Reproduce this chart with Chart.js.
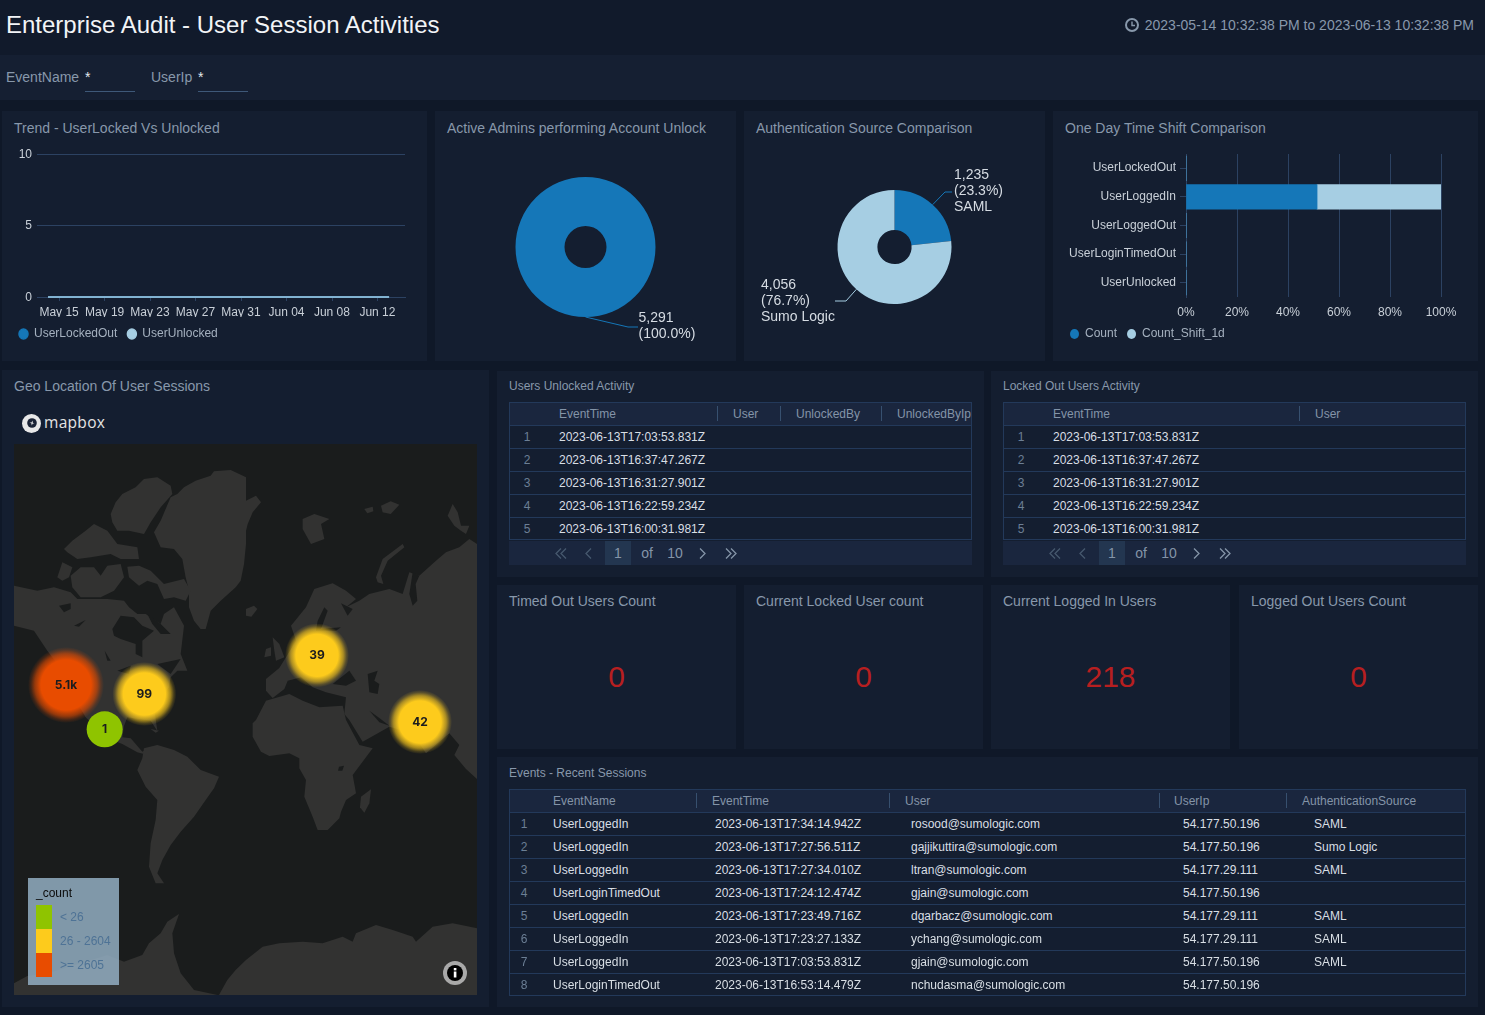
<!DOCTYPE html>
<html>
<head>
<meta charset="utf-8">
<title>Enterprise Audit - User Session Activities</title>
<script src="https://cdn.jsdelivr.net/npm/chart.js@4/dist/chart.umd.min.js"></script>
<style>
  html, body { margin: 0; padding: 0; background: #0f1828; }
  body { position: relative; width: 1485px; height: 1015px; overflow: hidden; font-family: "Liberation Sans", Arial, sans-serif; }
  .box, .txt, canvas, svg { position: absolute; display: block; }
  .txt { white-space: nowrap; }
</style>
</head>
<body>
<script>
const BLUE = "#1577b8";
const LIGHT = "#a6cee3";
const GRID = "#2c4262";
const TICK_TEXT = "#c9d0d8";
const LEGEND_TEXT = "#a5b1bf";
const WATER = "#1a1c1c";
const LAND = "#323231";

// trend panel
const trendDays = [0, 1, 2, 3, 4, 5, 6, 7, 8, 9, 10, 11, 12, 13, 14, 15, 16, 17, 18, 19, 20, 21, 22, 23, 24, 25, 26, 27, 28, 29, 30];
const lockedOutCounts = [0, 0, 0, 0, 0, 0, 0, 0, 0, 0, 0, 0, 0, 0, 0, 0, 0, 0, 0, 0, 0, 0, 0, 0, 0, 0, 0, 0, 0, 0, 0];
const unlockedCounts = [0, 0, 0, 0, 0, 0, 0, 0, 0, 0, 0, 0, 0, 0, 0, 0, 0, 0, 0, 0, 0, 0, 0, 0, 0, 0, 0, 0, 0, 0, 0];
const trendTickDays = [1, 5, 9, 13, 17, 21, 25, 29];
const trendTickLabels = ["May 15", "May 19", "May 23", "May 27", "May 31", "Jun 04", "Jun 08", "Jun 12"];
const trendValueTicks = [0, 5, 10];

// pies
const adminNames = ["Admin"];
const adminCounts = [5291];
const authSources = ["SAML", "Sumo Logic"];
const authCounts = [1235, 4056];

// time shift bars
const shiftEvents = ["UserLockedOut", "UserLoggedIn", "UserLoggedOut", "UserLoginTimedOut", "UserUnlocked"];
const shiftCount = [0, 51.4, 0, 0, 0];
const shiftCountPrev = [0, 48.6, 0, 0, 0];

// map clusters
const clusterCounts = [5100, 99, 1, 39, 42];
const clusterX = [156, 391, 272, 909, 1218];
const clusterY = [723, 750, 856, 634, 834];

// map outlines, flat x,y lists in the map plane (1389 x 1653)
const landShapes = [
  [510,130, 545,110, 590,95, 600,82, 650,78, 696,100, 696,170, 726,155, 741,175, 716,205, 701,240, 696,260, 696,300, 690,360, 680,410, 665,430, 620,470, 590,500, 575,555, 560,555, 540,530, 525,490, 525,440, 515,400, 505,345, 480,315, 440,310, 420,265, 440,230, 470,160, 490,150],
  [290,210, 305,175, 325,150, 365,130, 390,105, 430,100, 470,125, 475,150, 440,190, 410,235, 390,270, 345,260, 310,260, 295,235],
  [130,400, 145,355, 175,370, 165,400, 145,410],
  [170,395, 200,370, 240,370, 260,395, 280,365, 320,360, 330,400, 300,440, 260,460, 200,460, 175,430],
  [150,315, 175,290, 215,260, 240,240, 280,260, 310,300, 370,310, 375,345, 320,345, 290,330, 230,340, 190,345, 160,325],
  [340,368, 375,365, 410,380, 450,420, 510,405, 530,440, 515,470, 480,460, 450,465, 430,420, 400,410, 375,425, 345,400],
  [0,425, 70,440, 120,430, 170,445, 190,465, 280,465, 330,470, 345,490, 370,510, 395,510, 440,540, 450,510, 480,490, 510,545, 500,630, 520,680, 490,680, 470,700, 465,730, 420,790, 430,861, 410,830, 340,820, 330,845, 325,880, 350,883, 385,923, 395,918, 390,930, 370,925, 325,900, 275,880, 215,820, 180,760, 130,660, 100,620, 60,560, 0,545],
  [410,855, 435,860, 425,866],
  [390,913, 430,903, 480,918, 520,938, 560,978, 615,998, 600,1033, 575,1068, 540,1118, 500,1163, 470,1203, 445,1248, 430,1288, 450,1318, 425,1318, 405,1268, 410,1198, 425,1128, 430,1068, 395,1028, 370,978, 385,943],
  [0,1653, 0,1618, 40,1596, 100,1588, 200,1558, 280,1533, 330,1553, 385,1533, 405,1498, 440,1468, 460,1433, 495,1410, 475,1468, 480,1528, 500,1588, 540,1638, 610,1653],
  [615,1653, 640,1608, 665,1578, 696,1548, 746,1508, 796,1498, 866,1493, 926,1498, 986,1478, 1016,1493, 1026,1468, 1086,1443, 1136,1458, 1196,1478, 1206,1493, 1256,1448, 1316,1438, 1389,1453, 1389,1653],
  [726,828, 756,770, 826,750, 866,770, 916,790, 986,785, 996,828, 1036,903, 1076,913, 1016,993, 1026,1048, 996,1068, 981,1103, 976,1123, 941,1158, 911,1158, 896,1118, 871,1058, 876,1008, 856,973, 856,943, 826,928, 766,936, 741,923, 716,878, 716,838],
  [1041,1058, 1071,1036, 1066,1078, 1051,1106, 1038,1090],
  [756,705, 796,672, 816,640, 846,590, 831,545, 876,490, 901,435, 956,418, 996,440, 1026,465, 996,490, 1036,470, 1066,450, 1126,435, 1166,450, 1186,385, 1216,395, 1266,350, 1296,325, 1336,310, 1366,285, 1389,300, 1389,1005, 1356,975, 1321,933, 1336,903, 1306,868, 1236,928, 1196,868, 1126,848, 1046,893, 1006,828, 991,810, 996,760, 936,745, 896,730, 861,700, 821,710, 811,735, 776,762, 756,740],
  [866,225, 901,210, 946,225, 921,240, 931,285, 891,300, 866,255],
  [696,495, 720,485, 730,495, 712,518, 696,515],
  [1086,400, 1106,345, 1166,300, 1171,310, 1121,350, 1101,395, 1108,420, 1091,415],
  [1301,215, 1316,180, 1331,205, 1341,245, 1366,245, 1356,270, 1341,260, 1321,245],
  [776,580, 796,600, 811,640, 786,650, 781,620],
  [756,615, 771,610, 771,635, 751,640],
  [1051,195, 1076,188, 1078,202, 1060,208],
  [1101,185, 1130,172, 1156,182, 1130,210, 1106,205]
];
const waterShapes = [
  [295,555, 320,515, 360,520, 385,545, 420,560, 385,590, 385,640, 365,630, 365,600, 320,585, 300,575],
  [400,510, 440,540, 470,570, 440,570, 415,540],
  [135,485, 170,478, 170,495, 150,505],
  [180,545, 215,528, 195,548],
  [272,620, 290,650, 280,650],
  [310,680, 350,665, 345,690],
  [430,660, 500,645, 470,690],
  [911,530, 931,490, 941,500, 921,555, 981,550, 966,560, 906,560],
  [956,720, 1006,680, 1026,710, 996,725],
  [1061,690, 1091,680, 1081,710, 1096,720, 1091,750, 1066,745],
  [1066,800, 1096,822, 1126,845, 1096,835],
  [981,478, 1016,495, 1001,515, 990,495],
  [1196,385, 1186,450, 1196,485, 1210,470, 1205,420, 1216,395],
  [975,968, 990,965, 985,980, 972,980]
];

// tables
const unlockedTimes = ["2023-06-13T17:03:53.831Z", "2023-06-13T16:37:47.267Z", "2023-06-13T16:31:27.901Z", "2023-06-13T16:22:59.234Z", "2023-06-13T16:00:31.981Z"];
const lockedTimes = ["2023-06-13T17:03:53.831Z", "2023-06-13T16:37:47.267Z", "2023-06-13T16:31:27.901Z", "2023-06-13T16:22:59.234Z", "2023-06-13T16:00:31.981Z"];
const eventNames = ["UserLoggedIn", "UserLoggedIn", "UserLoggedIn", "UserLoginTimedOut", "UserLoggedIn", "UserLoggedIn", "UserLoggedIn", "UserLoginTimedOut"];
const eventTimes = ["2023-06-13T17:34:14.942Z", "2023-06-13T17:27:56.511Z", "2023-06-13T17:27:34.010Z", "2023-06-13T17:24:12.474Z", "2023-06-13T17:23:49.716Z", "2023-06-13T17:23:27.133Z", "2023-06-13T17:03:53.831Z", "2023-06-13T16:53:14.479Z"];
const eventUsers = ["rosood@sumologic.com", "gajjikuttira@sumologic.com", "ltran@sumologic.com", "gjain@sumologic.com", "dgarbacz@sumologic.com", "ychang@sumologic.com", "gjain@sumologic.com", "nchudasma@sumologic.com"];
const eventIps = ["54.177.50.196", "54.177.50.196", "54.177.29.111", "54.177.50.196", "54.177.29.111", "54.177.29.111", "54.177.50.196", "54.177.50.196"];
const eventSources = ["SAML", "Sumo Logic", "SAML", "", "SAML", "SAML", "SAML", ""];

// single values
const kpiTitles = ["Timed Out Users Count", "Current Locked User count", "Current Logged In Users", "Logged Out Users Count"];
const kpiValues = [0, 0, 218, 0];

Chart.defaults.font.family = '"Liberation Sans", Arial, sans-serif';
Chart.defaults.font.size = 12;
Chart.defaults.animation = false;
Chart.defaults.responsive = false;

function addBox(x, y, w, h, color, parent) {
  const el = document.createElement("div");
  el.className = "box";
  el.style.cssText = `left:${x}px;top:${y}px;width:${w}px;height:${h}px;background:${color};`;
  (parent || document.body).appendChild(el);
  return el;
}

function addText(text, x, y, size, color, opts = {}) {
  const el = document.createElement("div");
  el.className = "txt";
  el.textContent = text;
  const lh = size + 6;
  el.style.cssText = `top:${y - lh / 2}px;line-height:${lh}px;font-size:${size}px;color:${color};`;
  if (opts.center) {
    el.style.left = x - 100 + "px";
    el.style.width = "200px";
    el.style.textAlign = "center";
  } else if (opts.right) {
    el.style.right = 1485 - x + "px";
  } else {
    el.style.left = x + "px";
  }
  if (opts.font) el.style.fontFamily = opts.font;
  if (opts.weight) el.style.fontWeight = opts.weight;
  if (opts.spacing) el.style.letterSpacing = opts.spacing;
  (opts.parent || document.body).appendChild(el);
  return el;
}

function addCanvas(x, y, w, h) {
  const canvas = document.createElement("canvas");
  canvas.width = w;
  canvas.height = h;
  canvas.style.left = x + "px";
  canvas.style.top = y + "px";
  document.body.appendChild(canvas);
  return canvas;
}

function addSvg(x, y, w, h, inner) {
  const wrap = document.createElement("div");
  wrap.innerHTML = `<svg xmlns="http://www.w3.org/2000/svg" width="${w}" height="${h}" viewBox="0 0 ${w} ${h}" style="left:${x}px;top:${y}px">${inner}</svg>`;
  document.body.appendChild(wrap.firstChild);
}

// legend takes no layout room and sits where the panel wants it
const legendPlace = {
  id: "legendPlace",
  beforeInit(chart) {
    const fit = chart.legend.fit;
    chart.legend.fit = function () {
      fit.call(this);
      this.height = 0;
    };
  },
  afterLayout(chart, args, opts) {
    const legend = chart.legend;
    const pad = legend.options.labels.padding;
    legend.left = opts.x - pad;
    legend.right = chart.width;
    legend.top = opts.y - 6 - pad;
    legend.bottom = chart.height;
  }
};

// leader line and stacked text for each pie slice
const sliceLabels = {
  id: "sliceLabels",
  afterDatasetsDraw(chart, args, opts) {
    const { ctx } = chart;
    const data = chart.data.datasets[0].data;
    const total = data.reduce((a, b) => a + b, 0);
    chart.getDatasetMeta(0).data.forEach((arc, i) => {
      const spot = opts.spots[i];
      const mid = (arc.startAngle + arc.endAngle) / 2;
      const ax = arc.x + Math.cos(mid) * arc.outerRadius;
      const ay = arc.y + Math.sin(mid) * arc.outerRadius;
      ctx.save();
      ctx.strokeStyle = chart.data.datasets[0].backgroundColor[i];
      ctx.lineWidth = 1;
      ctx.beginPath();
      ctx.moveTo(ax, ay);
      ctx.lineTo(spot.elbowX, spot.elbowY);
      ctx.lineTo(spot.endX, spot.elbowY);
      ctx.stroke();
      ctx.fillStyle = "#d6dce3";
      ctx.font = '14px "Liberation Sans"';
      ctx.textBaseline = "middle";
      const lines = [data[i].toLocaleString("en-US"), "(" + (data[i] / total * 100).toFixed(1) + "%)"];
      if (opts.showNames) lines.push(chart.data.labels[i]);
      lines.forEach((line, k) => ctx.fillText(line, spot.textX, spot.textY + k * 16));
      ctx.restore();
    });
  }
};

function clusterLabel(count) {
  return count >= 1000 ? (count / 1000).toFixed(1) + "k" : String(count);
}

function clusterColor(count) {
  if (count < 26) return [143, 196, 0];
  if (count < 2605) return [253, 203, 28];
  return [232, 76, 0];
}

function clusterRadius(count) {
  if (count < 26) return 18;
  if (count < 2605) return 32;
  return 38;
}

// numbers on top of the bubbles
const clusterText = {
  id: "clusterText",
  afterDatasetsDraw(chart) {
    const { ctx } = chart;
    const index = chart.data.datasets.findIndex((d) => d.type === "bubble");
    chart.getDatasetMeta(index).data.forEach((pt, i) => {
      ctx.save();
      ctx.fillStyle = "#1b1c1e";
      ctx.font = 'bold 12px Inter, "Liberation Sans"';
      ctx.textAlign = "center";
      ctx.textBaseline = "middle";
      ctx.fillText(clusterLabel(clusterCounts[i]), pt.x, pt.y);
      ctx.restore();
    });
  }
};

// closes each outline dataset into a filled shape, land first, lakes and seas over it
const mapShapes = {
  id: "mapShapes",
  beforeDatasetsDraw(chart) {
    const { ctx } = chart;
    const fillKind = (kind) => {
      chart.data.datasets.forEach((dataset, i) => {
        if (dataset.shapeKind !== kind) return;
        ctx.beginPath();
        chart.getDatasetMeta(i).data.forEach((pt, k) => {
          if (k === 0) ctx.moveTo(pt.x, pt.y);
          else ctx.lineTo(pt.x, pt.y);
        });
        ctx.closePath();
        ctx.fillStyle = dataset.backgroundColor;
        ctx.fill();
      });
    };
    ctx.save();
    fillKind("land");
    fillKind("water");
    ctx.restore();
  }
};

/* ---------- page frame ---------- */
addBox(0, 0, 1485, 55, "#111a2b");
addBox(0, 55, 1485, 45, "#151f32");
addText("Enterprise Audit - User Session Activities", 6, 25, 24, "#f2f4f7");
addText("2023-05-14 10:32:38 PM to 2023-06-13 10:32:38 PM", 1474, 25, 14, "#8898ab", { right: true });
addSvg(1124, 17, 16, 16, '<circle cx="8" cy="8" r="6" fill="none" stroke="#8898ab" stroke-width="2"/><path d="M8 4.5V8.5H11" fill="none" stroke="#8898ab" stroke-width="1.4"/>');

addText("EventName", 6, 77, 14, "#8898ab");
addText("*", 85, 77, 14, "#e6eaee");
addBox(85, 91, 50, 1, "#3e5878");
addText("UserIp", 151, 77, 14, "#8898ab");
addText("*", 198, 77, 14, "#e6eaee");
addBox(198, 91, 50, 1, "#3e5878");

const PANEL = "#141e30";
const TITLE = "#8898ab";
[[2, 111, 425, 250, "Trend - UserLocked Vs Unlocked"],
 [435, 111, 301, 250, "Active Admins performing Account Unlock"],
 [744, 111, 301, 250, "Authentication Source Comparison"],
 [1053, 111, 425, 250, "One Day Time Shift Comparison"],
 [2, 370, 487, 637, "Geo Location Of User Sessions"]].forEach(([x, y, w, h, title]) => {
  addBox(x, y, w, h, PANEL);
  addText(title, x + 12, y + 17 - (y === 370 ? 1 : 0), 14, TITLE);
});

const legendLabels = {
  color: LEGEND_TEXT,
  usePointStyle: true,
  pointStyle: "circle",
  boxHeight: 7,
  pointStyleWidth: 9,
  padding: 10,
  font: { size: 12 },
  sort: (a, b) => a.datasetIndex - b.datasetIndex
};

/* ---------- trend lines ---------- */
new Chart(addCanvas(2, 111, 425, 250), {
  type: "line",
  data: {
    datasets: [
      { label: "UserLockedOut", data: trendDays.map((d, i) => ({ x: d, y: lockedOutCounts[i] })), borderColor: BLUE, backgroundColor: BLUE, borderWidth: 1.5, pointRadius: 0, clip: false, order: 2 },
      { label: "UserUnlocked", data: trendDays.map((d, i) => ({ x: d, y: unlockedCounts[i] })), borderColor: LIGHT, backgroundColor: LIGHT, borderWidth: 1.5, pointRadius: 0, clip: false, order: 1 }
    ]
  },
  options: {
    layout: { autoPadding: false, padding: { left: 0, right: 22, top: 43, bottom: 44 } },
    plugins: {
      tooltip: { enabled: false },
      legend: { position: "bottom", align: "start", labels: legendLabels },
      legendPlace: { x: 17, y: 223 }
    },
    scales: {
      x: {
        type: "linear",
        min: -0.97,
        max: 31.4,
        afterBuildTicks: (s) => { s.ticks = trendTickDays.map((v) => ({ value: v })); },
        afterFit: (s) => { s.height = 20; },
        ticks: { color: TICK_TEXT, padding: 4, maxRotation: 0, autoSkip: false, labelOffset: -0.3, callback: (v) => trendTickLabels[trendTickDays.indexOf(v)] },
        grid: { drawOnChartArea: false, tickLength: 4, color: GRID },
        border: { color: GRID }
      },
      y: {
        min: 0,
        max: 10,
        afterBuildTicks: (s) => { s.ticks = trendValueTicks.map((v) => ({ value: v })); },
        afterFit: (s) => { s.width = 35; },
        ticks: { color: TICK_TEXT, padding: 5, labelOffset: 0.5 },
        grid: { color: GRID, drawTicks: false },
        border: { display: false }
      }
    }
  },
  plugins: [legendPlace]
});

/* ---------- pies ---------- */
new Chart(addCanvas(435, 111, 301, 250), {
  type: "doughnut",
  data: { labels: adminNames, datasets: [{ data: adminCounts, backgroundColor: [BLUE], borderWidth: 0 }] },
  options: {
    radius: 70,
    cutout: "30%",
    layout: { autoPadding: false, padding: { top: 22 } },
    plugins: {
      legend: { display: false },
      tooltip: { enabled: false },
      sliceLabels: { showNames: false, spots: [{ elbowX: 193, elbowY: 216, endX: 203, textX: 203.5, textY: 207 }] }
    }
  },
  plugins: [sliceLabels]
});

new Chart(addCanvas(744, 111, 301, 250), {
  type: "doughnut",
  data: { labels: authSources, datasets: [{ data: authCounts, backgroundColor: [BLUE, LIGHT], borderWidth: 0 }] },
  options: {
    radius: 57,
    cutout: "30%",
    layout: { autoPadding: false, padding: { top: 22 } },
    plugins: {
      legend: { display: false },
      tooltip: { enabled: false },
      sliceLabels: {
        showNames: true,
        spots: [
          { elbowX: 201, elbowY: 81, endX: 208, textX: 210, textY: 64 },
          { elbowX: 102, elbowY: 190, endX: 91, textX: 17, textY: 174 }
        ]
      }
    }
  },
  plugins: [sliceLabels]
});

/* ---------- time shift bars ---------- */
new Chart(addCanvas(1053, 111, 425, 250), {
  type: "bar",
  data: {
    labels: shiftEvents,
    datasets: [
      { label: "Count", data: shiftCount, backgroundColor: BLUE, borderWidth: 0, barThickness: 24.5 },
      { label: "Count_Shift_1d", data: shiftCountPrev, backgroundColor: LIGHT, borderWidth: 0, barThickness: 24.5 }
    ]
  },
  options: {
    indexAxis: "y",
    layout: { autoPadding: false, padding: { left: 0, right: 37, top: 43, bottom: 44 } },
    plugins: {
      tooltip: { enabled: false },
      legend: { position: "bottom", align: "start", labels: legendLabels },
      legendPlace: { x: 17, y: 223 }
    },
    scales: {
      x: {
        stacked: true,
        min: 0,
        max: 100,
        afterFit: (s) => { s.height = 20; },
        ticks: { stepSize: 20, color: TICK_TEXT, padding: 8, callback: (v) => v + "%" },
        grid: { color: GRID, drawTicks: false },
        border: { display: false }
      },
      y: {
        stacked: true,
        afterFit: (s) => { s.width = 133; },
        ticks: { color: TICK_TEXT, padding: 4, labelOffset: -0.3 },
        grid: { drawOnChartArea: false, offset: false, tickLength: 6, color: GRID },
        border: { color: GRID }
      }
    }
  },
  plugins: [legendPlace]
});

/* ---------- map ---------- */
function toPoints(flat) {
  const pts = [];
  for (let i = 0; i < flat.length; i += 2) pts.push({ x: flat[i], y: flat[i + 1] });
  return pts;
}

function shapeDataset(flat, color, kind) {
  return { type: "scatter", shapeKind: kind, data: toPoints(flat), showLine: false, backgroundColor: color, pointRadius: 0, order: 1 };
}

function clusterFill(ctx) {
  if (ctx.dataIndex === undefined) return "transparent";
  const count = clusterCounts[ctx.dataIndex];
  const rgb = clusterColor(count).join(",");
  if (count < 26) return `rgb(${rgb})`;
  const px = ctx.chart.scales.x.getPixelForValue(clusterX[ctx.dataIndex]);
  const py = ctx.chart.scales.y.getPixelForValue(clusterY[ctx.dataIndex]);
  if (!isFinite(px) || !isFinite(py)) return `rgb(${rgb})`;
  const r = clusterRadius(count);
  const glow = ctx.chart.ctx.createRadialGradient(px, py, 0, px, py, r);
  glow.addColorStop(0, `rgba(${rgb},1)`);
  glow.addColorStop(0.66, `rgba(${rgb},1)`);
  glow.addColorStop(0.82, `rgba(${rgb},0.6)`);
  glow.addColorStop(0.92, `rgba(${rgb},0.2)`);
  glow.addColorStop(1, `rgba(${rgb},0)`);
  return glow;
}

const mapCanvas = addCanvas(14, 444, 463, 551);
mapCanvas.style.background = WATER;
new Chart(mapCanvas, {
  type: "scatter",
  data: {
    datasets: [
      {
        type: "bubble",
        data: clusterCounts.map((c, i) => ({ x: clusterX[i], y: clusterY[i], r: clusterRadius(c) })),
        backgroundColor: clusterFill,
        borderWidth: 0,
        order: 0
      },
      ...landShapes.map((s) => shapeDataset(s, LAND, "land")),
      ...waterShapes.map((s) => shapeDataset(s, WATER, "water"))
    ]
  },
  options: {
    layout: { autoPadding: false, padding: 0 },
    plugins: { legend: { display: false }, tooltip: { enabled: false } },
    scales: {
      x: { display: false, min: 0, max: 1389 },
      y: { display: false, min: 0, max: 1653, reverse: true }
    }
  },
  plugins: [mapShapes, clusterText]
});

addSvg(22, 414, 20, 20, '<circle cx="9.5" cy="9.5" r="9.5" fill="#e8e8e8"/><circle cx="10" cy="9" r="4.8" fill="#1a2234"/><path d="M10.5 6.5L9.5 8.5H7.5L9.5 9.5L9.7 11.5L10.8 9.5H12.5L10.8 8.7Z" fill="#e8e8e8"/>');
addText("mapbox", 44, 423, 15.5, "#e4e4e4", { font: '"Open Sans"', weight: 500, spacing: "0.3px" });

addBox(28, 878, 91, 107, "rgba(146,172,192,0.86)");
addText("_count", 36, 893, 12, "#0b0b0b");
addBox(36, 905, 16, 24, "#8fc400");
addBox(36, 929, 16, 24, "#fdcb1c");
addBox(36, 953, 16, 24, "#e84c00");
addText("< 26", 60, 917, 12, "#4e7396");
addText("26 - 2604", 60, 941, 12, "#4e7396");
addText(">= 2605", 60, 965, 12, "#4e7396");

addSvg(443, 961, 24, 24, '<circle cx="12" cy="12" r="12" fill="#a9a9a9"/><circle cx="12" cy="12" r="8" fill="#000"/><rect x="10.8" y="10.5" width="2.6" height="6" fill="#fff"/><rect x="10.8" y="7" width="2.6" height="2.4" fill="#fff"/>');

/* ---------- tables ---------- */
const TABLE_LINE = "#23395a";
const TABLE_HEAD = "#1a263e";
const HEAD_TEXT = "#8494a8";
const CELL_TEXT = "#d9dfe5";
const ROW_NUM = "#6c7f95";

// x values below are page pixels for header text, dividers and cell text
function addTable({ x, y, w, numX, heads, headX, dividers, cellX, columns }) {
  const rowCount = columns[0].length;
  const h = 23 + rowCount * 23;
  const wrap = addBox(x, y, w, h, PANEL);
  wrap.style.overflow = "hidden";
  wrap.style.boxSizing = "border-box";
  wrap.style.border = "1px solid " + TABLE_LINE;
  const ox = x + 1;
  addBox(0, 0, w, 22, TABLE_HEAD, wrap);
  heads.forEach((name, i) => addText(name, headX[i] - ox, 11, 12, HEAD_TEXT, { parent: wrap }));
  dividers.forEach((dx) => addBox(dx - ox, 3, 1, 15, "#37506f", wrap));
  for (let r = 0; r < rowCount; r++) {
    const top = 23 + r * 23;
    addBox(0, top - 1, w, 1, TABLE_LINE, wrap);
    addText(String(r + 1), numX - ox, top + 11 - 0.5, 12, ROW_NUM, { parent: wrap, center: true });
    columns.forEach((col, c) => addText(col[r], cellX[c] - ox, top + 11 - 0.5, 12, CELL_TEXT, { parent: wrap }));
  }
}

function addPager(x, y, w, shift) {
  addBox(x, y, w, 24, "#1a263e");
  const dim = "#46586e";
  const lit = "#8494a8";
  const cy = y + 12;
  const chevrons = (cx, color, dir, two) => {
    const arm = (ox) => `<polyline points="${ox - dir * 4},0.5 ${ox + dir * 1},5.5 ${ox - dir * 4},10.5" fill="none" stroke="${color}" stroke-width="1.3"/>`;
    const svg = two ? arm(7) + arm(12) : arm(9);
    addSvg(cx - 9 + (dir < 0 ? -2 : 1), cy - 5.5, 18, 11, svg);
  };
  chevrons(shift + 561, dim, -1, true);
  chevrons(shift + 589, dim, -1, false);
  addBox(shift + 605, y, 26, 24, "#233650");
  addText("1", shift + 618, cy, 14, lit, { center: true });
  addText("of", shift + 647, cy, 14, lit, { center: true });
  addText("10", shift + 675, cy, 14, lit, { center: true });
  chevrons(shift + 703, lit, 1, false);
  chevrons(shift + 731, lit, 1, true);
}

addBox(497, 371, 487, 206, PANEL);
addText("Users Unlocked Activity", 509, 386, 12, TITLE);
addTable({
  x: 509, y: 402, w: 463, numX: 527,
  heads: ["EventTime", "User", "UnlockedBy", "UnlockedByIp"],
  headX: [559, 733, 796, 897],
  dividers: [717, 780, 881],
  cellX: [559],
  columns: [unlockedTimes]
});
addPager(509, 541, 463, 0);

addBox(991, 371, 487, 206, PANEL);
addText("Locked Out Users Activity", 1003, 386, 12, TITLE);
addTable({
  x: 1003, y: 402, w: 463, numX: 1021,
  heads: ["EventTime", "User"],
  headX: [1053, 1315],
  dividers: [1299],
  cellX: [1053],
  columns: [lockedTimes]
});
addPager(1003, 541, 463, 494);

[[497, 239], [744, 239], [991, 239], [1239, 239]].forEach(([x, w], i) => {
  addBox(x, 585, w, 164, PANEL);
  addText(kpiTitles[i], x + 12, 601, 14, TITLE);
  addText(String(kpiValues[i]), x + w / 2, 677, 30, "#b71f20", { center: true });
});

addBox(497, 757, 981, 250, PANEL);
addText("Events - Recent Sessions", 509, 773, 12, TITLE);
addTable({
  x: 509, y: 789, w: 957, numX: 524,
  heads: ["EventName", "EventTime", "User", "UserIp", "AuthenticationSource"],
  headX: [553, 712, 905, 1174, 1302],
  dividers: [696, 889, 1159, 1286],
  cellX: [553, 715, 911, 1183, 1314],
  columns: [eventNames, eventTimes, eventUsers, eventIps, eventSources]
});
</script>
</body>
</html>
